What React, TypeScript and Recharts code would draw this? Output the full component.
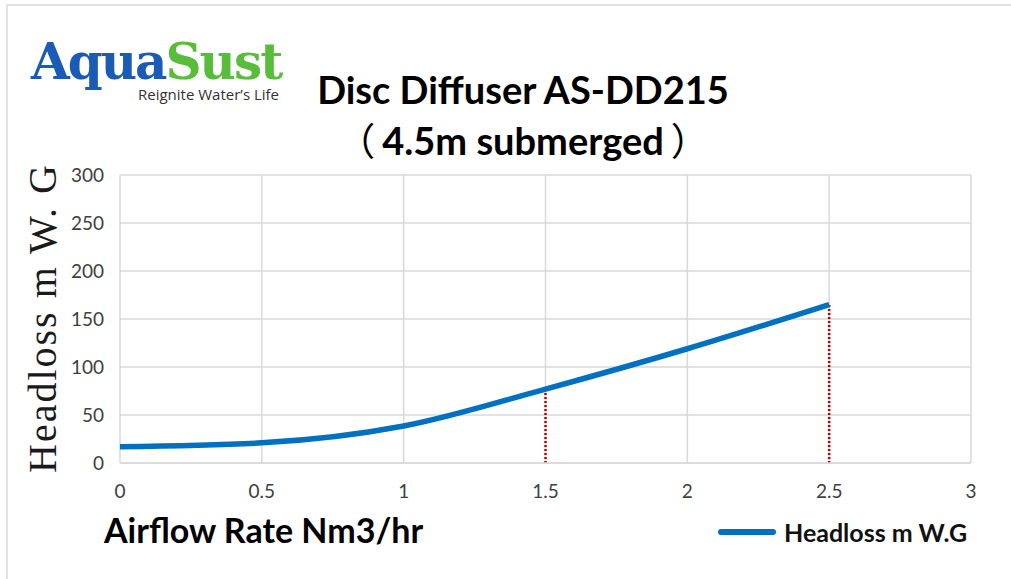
import React from "react";
import {
  LineChart,
  Line,
  XAxis,
  YAxis,
  CartesianGrid,
  ReferenceLine,
} from "recharts";

const airflow = [0, 0.5, 1, 1.5, 2, 2.5];
const headloss = [17, 21, 38.5, 77, 119, 165];
const xTicks = [0, 0.5, 1, 1.5, 2, 2.5, 3];
const yTicks = [0, 50, 100, 150, 200, 250, 300];
const markedAirflow = [1.5, 2.5];

const data = airflow.map((x, i) => ({ x, headloss: headloss[i] }));

const FONT = "Lato, 'Noto Sans', sans-serif";
const CJK = "'Noto Sans CJK SC', sans-serif";

const App = () => {
  return (
    <div
      style={{
        position: "absolute",
        left: 0,
        top: 0,
        width: 1011,
        height: 579,
        background: "#fff",
        overflow: "hidden",
      }}
    >
      {/* frame */}
      <div
        style={{
          position: "absolute",
          left: 6,
          top: 4,
          width: 1011,
          height: 579,
          borderLeft: "2px solid #e2e2e2",
          borderTop: "2px solid #e2e2e2",
        }}
      />

      {/* logo */}
      <div
        style={{
          position: "absolute",
          left: 31,
          top: 44,
          fontFamily: "'DejaVu Serif', serif",
          fontWeight: 700,
          fontSize: 50,
          letterSpacing: -2,
          lineHeight: "36px",
        }}
      >
        <span style={{ color: "#1A5BB5" }}>Aqua</span>
        <span style={{ color: "#58BD3A" }}>Sust</span>
      </div>
      <div
        style={{
          position: "absolute",
          left: 138,
          top: 86,
          fontFamily: "'Open Sans', sans-serif",
          fontSize: 15,
          lineHeight: "17px",
          color: "#333",
        }}
      >
        Reignite Water’s Life
      </div>

      {/* title */}
      <div
        style={{
          position: "absolute",
          left: 223,
          width: 600,
          top: 64,
          textAlign: "center",
          fontFamily: FONT,
          fontWeight: 700,
          fontSize: 38,
          lineHeight: "50px",
          color: "#000",
        }}
      >
        <div>Disc Diffuser AS-DD215</div>
        <div>
          <span style={{ fontFamily: CJK, fontWeight: 400, marginRight: 7 }}>（</span>4.5m submerged<span style={{ fontFamily: CJK, fontWeight: 400, marginLeft: 7 }}>）</span>
        </div>
      </div>

      {/* y axis title */}
      <div
        style={{
          position: "absolute",
          left: 42,
          top: 318,
          transform: "translate(-50%, -50%) rotate(-90deg)",
          whiteSpace: "nowrap",
          fontFamily: "'Liberation Serif', serif",
          fontSize: 40,
          letterSpacing: 2,
          color: "#1a1a1a",
        }}
      >
        Headloss m W. G
      </div>

      {/* x axis title */}
      <div
        style={{
          position: "absolute",
          left: 104,
          top: 508,
          fontFamily: FONT,
          fontWeight: 700,
          fontSize: 34,
          lineHeight: "44px",
          color: "#000",
        }}
      >
        Airflow Rate Nm3/hr
      </div>

      {/* legend */}
      <div
        style={{
          position: "absolute",
          left: 718,
          top: 516,
          display: "flex",
          alignItems: "center",
          gap: 8,
        }}
      >
        <div style={{ width: 58, height: 6, borderRadius: 3, background: "#0070C0" }} />
        <span style={{ fontFamily: FONT, fontWeight: 700, fontSize: 25, color: "#111", lineHeight: "32px" }}>
          Headloss m W.G
        </span>
      </div>

      <div style={{ position: "absolute", left: 0, top: 0 }}>
        <LineChart
          width={1011}
          height={579}
          data={data}
          margin={{ top: 175, right: 40, bottom: 0, left: 0 }}
        >
          <CartesianGrid stroke="#d9d9d9" strokeWidth={1.5} />
          <XAxis
            dataKey="x"
            type="number"
            domain={[0, 3]}
            ticks={xTicks}
            tickLine={false}
            axisLine={{ stroke: "#d9d9d9", strokeWidth: 1.5 }}
            tickSize={0}
            tickMargin={22}
            height={116}
            tick={{ fill: "#404040", fontSize: 19, fontFamily: FONT }}
          />
          <YAxis
            type="number"
            domain={[0, 300]}
            ticks={yTicks}
            tickLine={false}
            axisLine={false}
            tickSize={0}
            tickMargin={16}
            width={120}
            tick={{ fill: "#404040", fontSize: 19, fontFamily: FONT }}
          />
          {markedAirflow.map((x) => (
            <ReferenceLine
              key={x}
              segment={[
                { x, y: 0 },
                { x, y: headloss[airflow.indexOf(x)] },
              ]}
              stroke="#C00000"
              strokeWidth={2.5}
              strokeDasharray="2 2"
            />
          ))}
          <Line
            type="monotone"
            dataKey="headloss"
            stroke="#0070C0"
            strokeWidth={5.5}
            dot={false}
            isAnimationActive={false}
          />
        </LineChart>
      </div>
    </div>
  );
};

export default App;
